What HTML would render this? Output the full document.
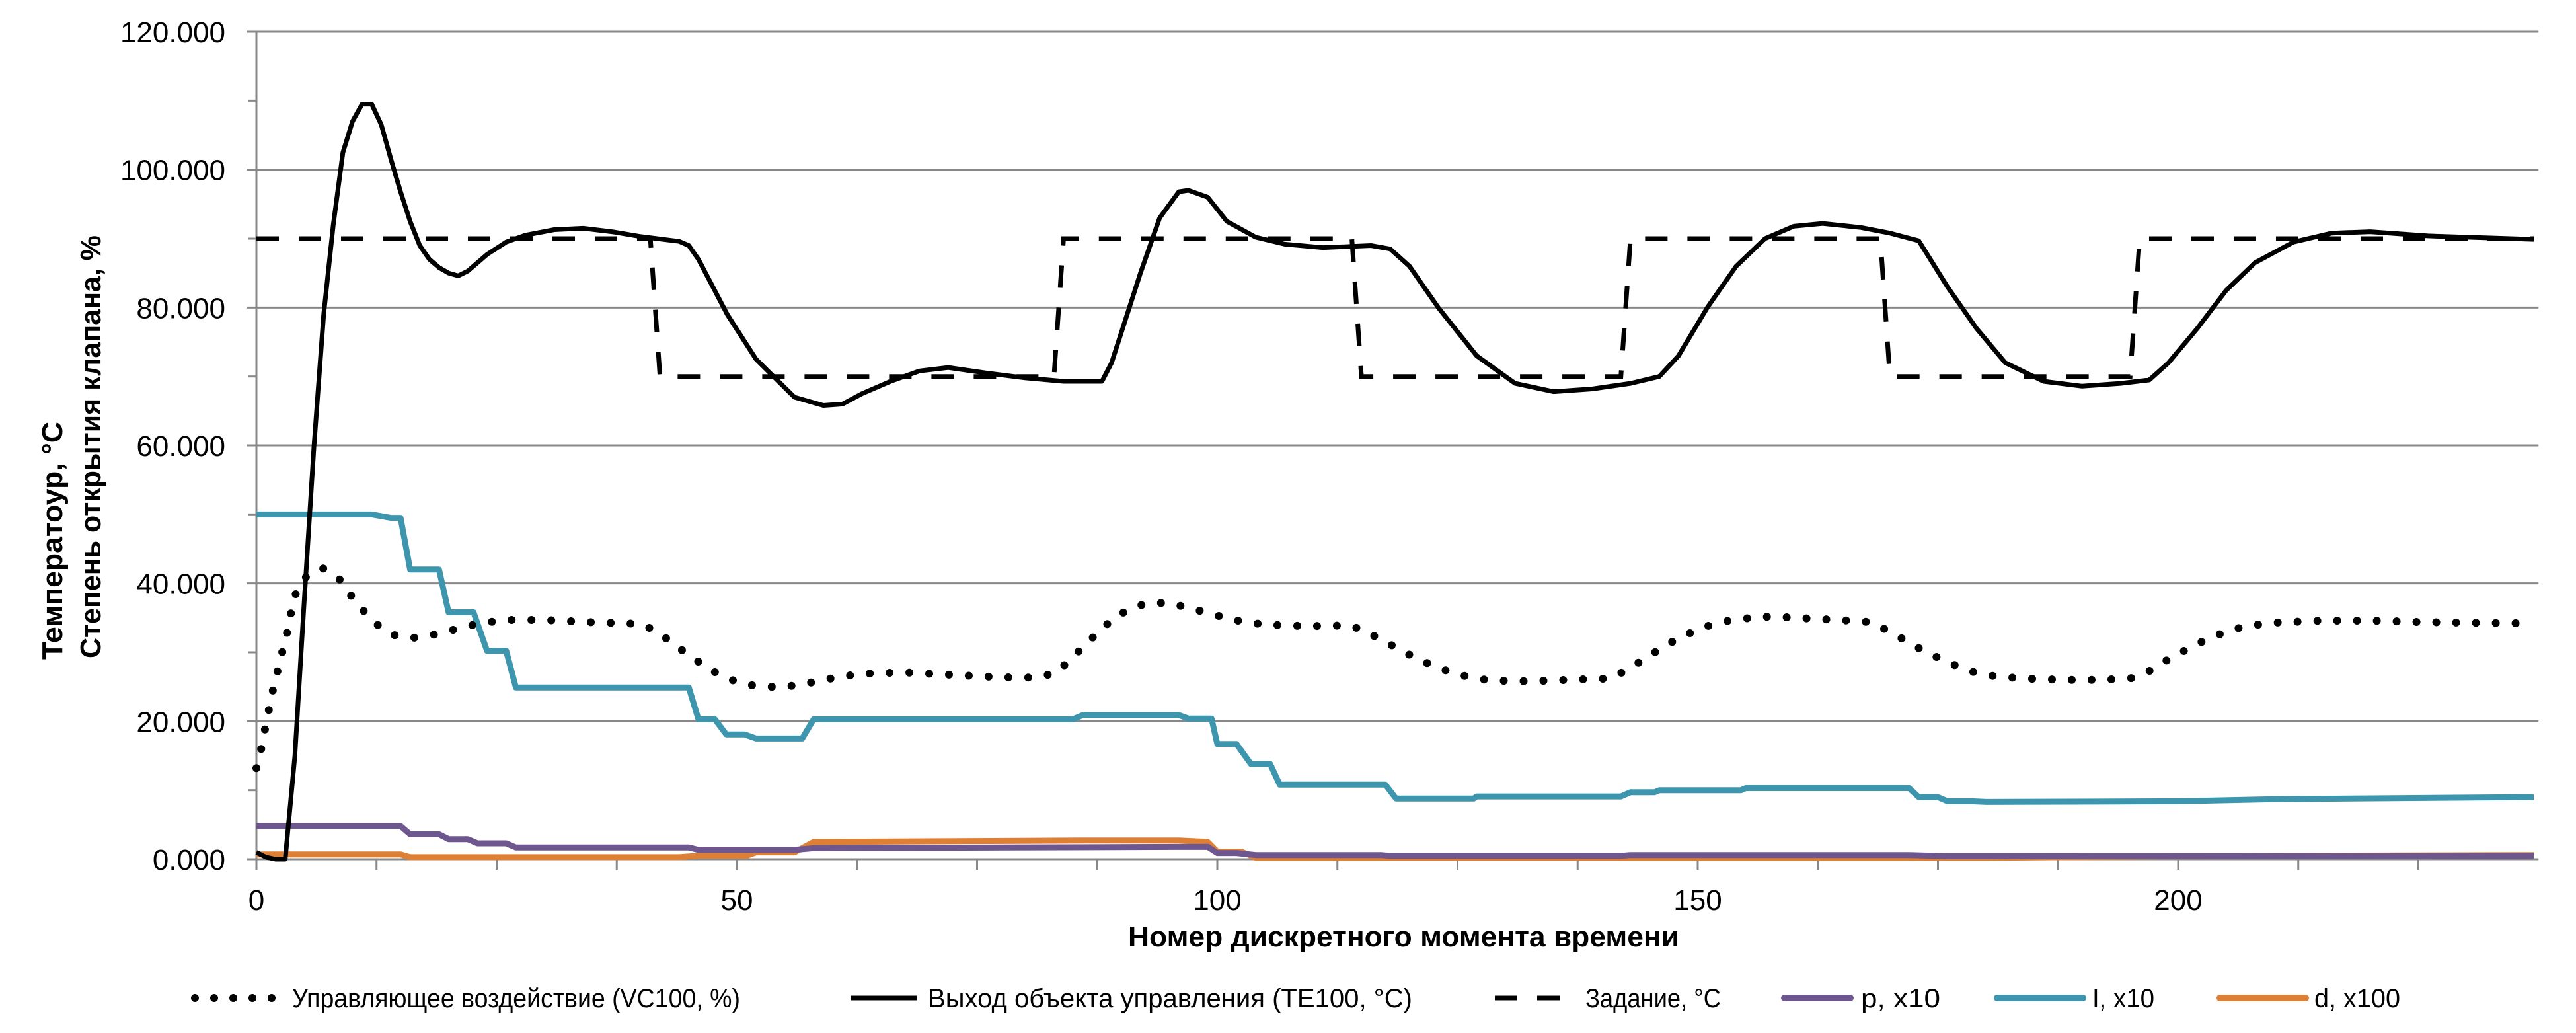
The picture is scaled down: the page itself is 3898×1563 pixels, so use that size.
<!DOCTYPE html>
<html><head><meta charset="utf-8"><style>
html,body{margin:0;padding:0;background:#fff;}
svg{display:block;}
text{font-family:"Liberation Sans","DejaVu Sans",sans-serif;fill:#000;}
</style></head><body>
<svg id="chart" width="3898" height="1563" viewBox="0 0 3898 1563" xmlns="http://www.w3.org/2000/svg">
<g id="grid"></g>
<g id="axes"></g>
<g id="series"></g>
<text x="2124" y="1432" text-anchor="middle" font-size="44" font-weight="bold" textLength="834" lengthAdjust="spacingAndGlyphs">Номер дискретного момента времени</text>
<text transform="translate(94,998) rotate(-90)" font-size="44" font-weight="bold" textLength="360" lengthAdjust="spacingAndGlyphs">Температоур, °C</text>
<text transform="translate(152,996) rotate(-90)" font-size="44" font-weight="bold" textLength="640" lengthAdjust="spacingAndGlyphs">Степень открытия клапана, %</text>
<g id="legend"></g>
</svg>
<script>
const yTicks = [0, 20, 40, 60, 80, 100, 120];
const yTickLabels = ["0.000", "20.000", "40.000", "60.000", "80.000", "100.000", "120.000"];
const xTicks = [0, 50, 100, 150, 200];
const xMax = 237.5;

const spT = [0, 41, 42, 83, 84, 114, 115, 142, 143, 169, 170, 195, 196, 237];
const spV = [90, 90, 70, 70, 90, 90, 70, 70, 90, 90, 70, 70, 90, 90];

const outT = [0,1,2,3,4,5,6,7,8,9,10,11,12,13,14,15,16,17,18,19,20,21,22,24,26,28,31,34,37,40,44,45,46,49,52,56,59,61,63,66,69,72,76,80,84,88,89,92,94,96,97,99,101,104,107,111,116,118,120,123,127,131,135,139,143,146,148,151,154,157,160,163,167,170,173,176,179,182,186,190,194,197,199,202,205,208,212,216,220,226,237];
const outV = [1,0.3,0,0,15,38,60,79,92,102.5,107,109.5,109.5,106.5,101.5,96.8,92.5,89,87,85.8,85,84.6,85.3,87.7,89.5,90.5,91.3,91.5,91,90.3,89.6,89,87,79,72.5,67,65.8,66,67.5,69.3,70.8,71.3,70.5,69.8,69.3,69.3,72,85,93,96.8,97,96,92.5,90.2,89.2,88.7,89,88.5,86,80,73,69,67.8,68.2,69,70,73,80,86,90,91.8,92.2,91.6,90.8,89.7,83,77,72,69.3,68.6,69,69.5,72,77,82.5,86.5,89.5,90.8,91,90.4,89.9];

const vcT = [0,0.5,0.9,1.3,1.7,2.2,2.7,3.2,3.6,4.1,5.2,6.9,8.6,9.8,11.1,12.6,14.3,16.3,18.3,20.3,22.3,24.3,26.3,30,34.3,38.4,40.2,42.2,43.8,45.5,47.2,49,51,53,55,57,59,61,63.2,67.3,71.4,75.4,79.5,81.5,83.3,84.8,86.3,87.8,89.3,91.1,93.1,95.1,97.1,99.1,101.1,103.2,105.3,109.4,113.5,115.2,116.9,118.9,120.7,122.6,124.5,126.5,128.5,132.6,136.7,140.8,142.6,144.3,146,147.8,149.7,151.6,153.6,155.6,157.7,161.7,165.8,167.9,169.7,171.5,173.4,175.2,177,179,181,184,188,192,195,197,199,201,203,205,207,210,215,220,225,230,237];
const vcV = [13.2,16,18.9,21.7,24.4,27.3,30.1,32.9,35.7,38.5,41,42.2,40.7,38.3,36.1,34,32.5,32.1,32.5,33.2,33.9,34.4,34.7,34.7,34.4,34.2,34.1,32.5,30.8,29.1,27.5,26.2,25.3,25,25,25.4,26,26.5,26.9,27.1,26.8,26.5,26.3,26.4,27.1,29.1,31.1,33.2,35,36.5,37.2,37.1,36.4,35.7,34.9,34.3,34,33.8,33.9,33.3,31.9,30.5,29.1,28,27,26.3,25.9,25.8,26,26.2,27.4,28.9,30.4,31.9,33.1,34.1,34.7,35,35.2,34.9,34.6,34.4,33.2,31.8,30.3,29.1,28,27,26.5,26.2,26,26,26.2,27.3,29,30.5,31.9,33,33.8,34.3,34.6,34.6,34.4,34.3,34.2];

const iT = [0,12,14,15,16,19,20,22.6,24,26,27,45,46,47.7,48.9,50.8,52,56.8,58,85,86,96,97,99.4,100,102,103.5,105.5,106.5,117.5,118.6,126.7,127,142,143,145.5,146,154.5,155,172,173,175,176,178.5,180,200,210,237];
const iV = [50,50,49.5,49.5,42,42,35.8,35.8,30.2,30.2,24.9,24.9,20.3,20.3,18.1,18.1,17.5,17.5,20.3,20.3,20.9,20.9,20.4,20.4,16.7,16.7,13.8,13.8,10.8,10.8,8.8,8.8,9.1,9.1,9.7,9.7,10,10,10.3,10.3,9,9,8.4,8.4,8.3,8.4,8.7,9.0];

const pT = [0,15,16,19,20,22,23,26,27,45,46,56,58,99,100,102,104,117,118,142,143,172,176,237];
const pV = [4.8,4.8,3.6,3.6,2.9,2.9,2.3,2.3,1.7,1.7,1.35,1.35,1.6,1.8,0.9,0.9,0.6,0.6,0.5,0.5,0.6,0.6,0.45,0.5];

const dT = [0,15,16,44,46,51,52,56,58,86,96,99,100,102.5,104,180,200,237];
const dV = [0.7,0.7,0.3,0.3,0.5,0.5,1.0,1.0,2.5,2.7,2.7,2.5,1.1,1.1,0.2,0.2,0.45,0.6];

const X0 = 388, XPU = 14.54, Y0 = 1300, YPU = 10.433;
const xs = t => X0 + t * XPU;
const ys = v => Y0 - v * YPU;
const NS = "http://www.w3.org/2000/svg";
function mk(tag, attrs, parent) {
  const e = document.createElementNS(NS, tag);
  for (const k in attrs) e.setAttribute(k, attrs[k]);
  parent.appendChild(e);
  return e;
}
const grid = document.getElementById('grid');
const axes = document.getElementById('axes');
const series = document.getElementById('series');
const legend = document.getElementById('legend');
const xEnd = xs(xMax);

yTicks.forEach((v, i) => {
  if (v > 0) {
    const g = mk('line', {x1: X0 - 14, x2: xEnd, y1: ys(v), y2: ys(v), stroke: '#888', 'stroke-width': 3}, grid);
    
    
  }
  const t = mk('text', {x: 341, y: ys(v) + 16, 'text-anchor': 'end', 'font-size': 44}, axes);
  t.textContent = yTickLabels[i];
  
  
  if (i < yTicks.length - 1) {
    const m = mk('line', {x1: X0 - 12, x2: X0, y1: ys(v + 10), y2: ys(v + 10), stroke: '#888', 'stroke-width': 3}, axes);
    
    
  }
});
const ya = mk('line', {x1: X0, x2: X0, y1: ys(120), y2: Y0 + 16, stroke: '#888', 'stroke-width': 3}, axes);


const xa = mk('line', {x1: X0 - 14, x2: xEnd, y1: Y0, y2: Y0, stroke: '#888', 'stroke-width': 3}, axes);


for (let t = 12.5; t < xMax; t += 12.5) {
  const tk = mk('line', {x1: xs(t), x2: xs(t), y1: Y0, y2: Y0 + 16, stroke: '#888', 'stroke-width': 3}, axes);
  
  
}
xTicks.forEach(v => {
  const t = mk('text', {x: xs(v), y: 1377, 'text-anchor': 'middle', 'font-size': 44}, axes);
  t.textContent = String(v);
  
  
});

function pts(T, V) { return T.map((t, i) => xs(t).toFixed(1) + ',' + ys(V[i]).toFixed(1)).join(' '); }
const sD = mk('polyline', {points: pts(dT, dV), fill: 'none', stroke: '#DD8036', 'stroke-width': 9, 'stroke-linejoin': 'round'}, series);


const sP = mk('polyline', {points: pts(pT, pV), fill: 'none', stroke: '#6E568F', 'stroke-width': 9, 'stroke-linejoin': 'round'}, series);


const sI = mk('polyline', {points: pts(iT, iV), fill: 'none', stroke: '#3E96AE', 'stroke-width': 9, 'stroke-linejoin': 'round'}, series);


const sSp = mk('polyline', {points: pts(spT, spV), fill: 'none', stroke: '#000', 'stroke-width': 7, 'stroke-dasharray': '34 30'}, series);


const sOut = mk('polyline', {points: pts(outT, outV), fill: 'none', stroke: '#000', 'stroke-width': 7, 'stroke-linejoin': 'round'}, series);


const sVc = mk('polyline', {points: pts(vcT, vcV), fill: 'none', stroke: '#000', 'stroke-width': 12, 'stroke-linecap': 'round', 'stroke-dasharray': '0 30'}, series);



const LY = 1510;
const legItems = [
  {x1: 295, x2: 430, tx: 442, tw: 678, label: 'Управляющее воздействие (VC100, %)', stroke: '#000', sw: 12, dash: '0 29', cap: 'round', name: 'legend-entry-vc100'},
  {x1: 1287, x2: 1387, tx: 1404, tw: 733, label: 'Выход объекта управления (TE100, °C)', stroke: '#000', sw: 7, dash: '', cap: 'butt', name: 'legend-entry-te100'},
  {x1: 2262, x2: 2375, tx: 2399, tw: 205, label: 'Задание, °C', stroke: '#000', sw: 7, dash: '34 30', cap: 'butt', name: 'legend-entry-setpoint'},
  {x1: 2700, x2: 2800, tx: 2816, tw: 120, label: 'p, x10', stroke: '#6E568F', sw: 10, dash: '', cap: 'round', name: 'legend-entry-p'},
  {x1: 3022, x2: 3152, tx: 3166, tw: 94, label: 'I, x10', stroke: '#3E96AE', sw: 10, dash: '', cap: 'round', name: 'legend-entry-i'},
  {x1: 3359, x2: 3489, tx: 3502, tw: 130, label: 'd, x100', stroke: '#DD8036', sw: 10, dash: '', cap: 'round', name: 'legend-entry-d'}
];
legItems.forEach(it => {
  const g = mk('g', {}, legend);
  
  
  const a = {x1: it.x1, x2: it.x2, y1: LY, y2: LY, stroke: it.stroke, 'stroke-width': it.sw, 'stroke-linecap': it.cap};
  if (it.dash) a['stroke-dasharray'] = it.dash;
  mk('line', a, g);
  const t = mk('text', {x: it.tx, y: LY + 14, 'font-size': 40, textLength: it.tw, lengthAdjust: 'spacingAndGlyphs'}, g);
  t.textContent = it.label;
});
</script>
</body></html>
